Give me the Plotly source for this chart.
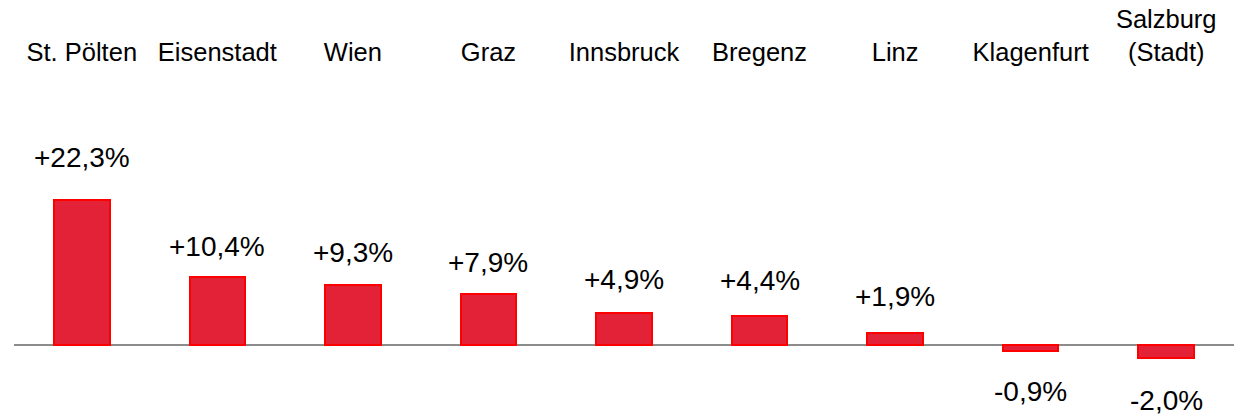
import plotly.graph_objects as go

cities = ["St. Pölten", "Eisenstadt", "Wien", "Graz", "Innsbruck", "Bregenz",
          "Linz", "Klagenfurt", "Salzburg<br>(Stadt)"]
changes = [22.3, 10.4, 9.3, 7.9, 4.9, 4.4, 1.9, -0.9, -2.0]
labels = ["+22,3%", "+10,4%", "+9,3%", "+7,9%", "+4,9%", "+4,4%", "+1,9%", "-0,9%", "-2,0%"]

FONT = "Liberation Sans, Arial, sans-serif"
label_shift = [43, 31, 32, 31, 34, 36, 36, -41, -42]

fig = go.Figure()
fig.add_trace(go.Bar(
    x=list(range(len(cities))), y=changes, width=0.41,
    marker=dict(color="#E32238", line=dict(color="#FF0000", width=2)),
    hoverinfo="skip",
))
for i, (v, t) in enumerate(zip(changes, labels)):
    fig.add_annotation(x=i, y=v, text=t, showarrow=False, yshift=label_shift[i],
                       font=dict(family=FONT, size=28, color="#000000"))

fig.update_layout(
    width=1234, height=415,
    margin=dict(l=14, r=0, t=80, b=0, autoexpand=False),
    paper_bgcolor="white", plot_bgcolor="white",
    showlegend=False,
    bargap=0,
    font=dict(family=FONT, size=25, color="#000000"),
)
fig.update_xaxes(
    side="top", tickmode="array", tickvals=list(range(len(cities))), ticktext=cities,
    range=[-0.5, len(cities) - 0.5], showgrid=False, showline=False, ticks="",
    zeroline=False, tickfont=dict(family=FONT, size=25.5, color="#000000"),
    ticklabelstandoff=13, automargin=False,
)
fig.update_yaxes(
    range=[-10.77, 40.77], showgrid=False, showticklabels=False, ticks="",
    zeroline=True, zerolinecolor="#8C8C8C", zerolinewidth=1.5, showline=False,
    automargin=False,
)
fig.write_html("out.html", config={"displayModeBar": False},
               post_script="document.body.style.margin='0px';document.body.style.overflow='hidden';")
